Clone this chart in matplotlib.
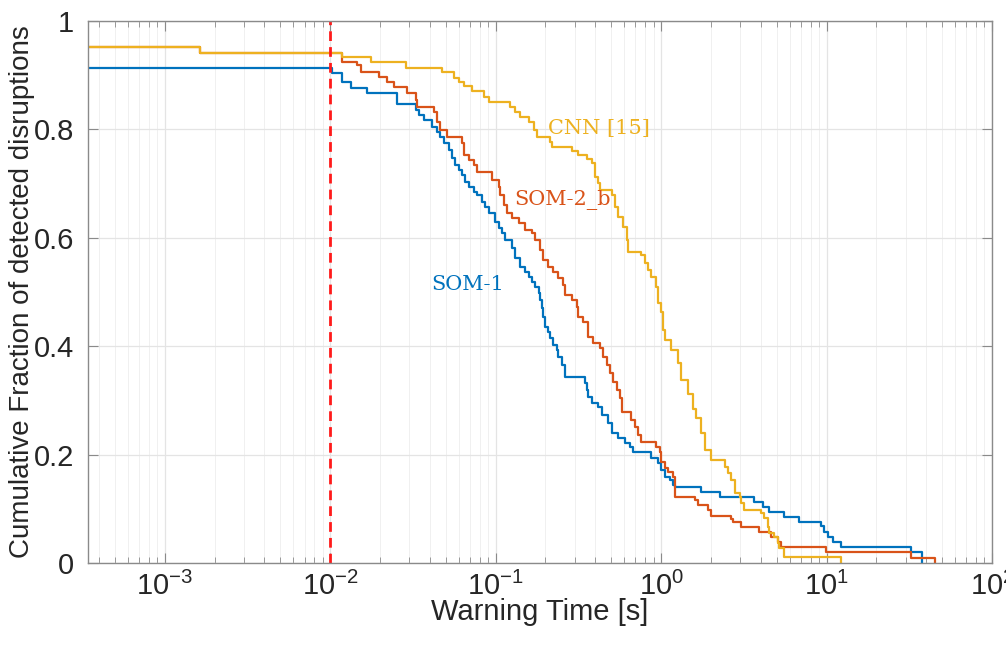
"""
Cumulative fraction of detected disruptions vs warning time.
"""
import matplotlib.pyplot as plt
import numpy as np
from matplotlib.ticker import LogLocator, NullFormatter

plt.rcParams['font.family'] = ['Liberation Sans', 'DejaVu Sans']
plt.rcParams['mathtext.default'] = 'regular'

# Data -- level after each step, warning time in s
som1_t = [1e-4, 0.0102, 0.01186, 0.01343, 0.01679, 0.0252, 0.0328, 0.0344,
          0.0368, 0.0413, 0.0443, 0.0464, 0.0486, 0.0521, 0.0546, 0.0572,
          0.0598, 0.0627, 0.0657, 0.0688, 0.0737, 0.0771, 0.0826, 0.0867,
          0.0907, 0.0996, 0.1043, 0.109, 0.1143, 0.1254, 0.1314, 0.141,
          0.151, 0.158, 0.1655, 0.1734, 0.1816, 0.1859, 0.190, 0.1945, 0.199,
          0.2086, 0.2136, 0.2236, 0.234, 0.2396, 0.2509, 0.263, 0.3467,
          0.3548, 0.3631, 0.380, 0.417, 0.4366, 0.4797, 0.502, 0.5508, 0.604,
          0.6476, 0.678, 0.8743, 0.9593, 1.004, 1.053, 1.128, 1.181, 1.209,
          1.750, 2.258, 3.667, 4.115, 4.515, 5.56, 6.85, 9.24, 9.59, 10.14,
          10.87, 12.2, 32.2, 37.9]
som1_f = [0.914, 0.9035, 0.888, 0.876, 0.8666, 0.847, 0.836, 0.8266, 0.8173,
          0.805, 0.7958, 0.7865, 0.7744, 0.762, 0.7467, 0.7343, 0.725, 0.716,
          0.7035, 0.694, 0.685, 0.679, 0.6666, 0.6574, 0.645, 0.6297, 0.6175,
          0.6083, 0.5959, 0.581, 0.5627, 0.5467, 0.5375, 0.5282, 0.519,
          0.5098, 0.4976, 0.4852, 0.4699, 0.4544, 0.436, 0.4267, 0.4146,
          0.4022, 0.393, 0.3806, 0.3653, 0.3437, 0.3316, 0.3192, 0.3068,
          0.2946, 0.2884, 0.273, 0.2577, 0.2393, 0.230, 0.2208, 0.2146,
          0.2053, 0.1932, 0.184, 0.1716, 0.1592, 0.1531, 0.1439, 0.1408,
          0.1315, 0.1223, 0.1131, 0.1039, 0.0946, 0.0854, 0.0762, 0.0683,
          0.0577, 0.0485, 0.0393, 0.0301, 0.0208, 0.0]

som2b_t = [1e-4, 0.00163, 0.01186, 0.01459, 0.01538, 0.0197, 0.0221, 0.0243,
           0.0292, 0.0328, 0.0336, 0.0423, 0.0443, 0.0464, 0.0509, 0.0627,
           0.0642, 0.0688, 0.0737, 0.0771, 0.0950, 0.1043, 0.1067, 0.1117,
           0.1170, 0.1254, 0.1377, 0.151, 0.1655, 0.1734, 0.1859, 0.1945,
           0.2086, 0.2236, 0.2396, 0.2568, 0.263, 0.2884, 0.309, 0.3162,
           0.3388, 0.3631, 0.389, 0.4274, 0.4477, 0.468, 0.491, 0.514, 0.538,
           0.564, 0.577, 0.662, 0.695, 0.727, 0.761, 0.937, 0.982, 1.004,
           1.053, 1.102, 1.181, 1.209, 1.60, 1.67, 1.92, 2.01, 2.65, 2.72,
           3.05, 3.93, 4.63, 5.07, 5.31, 9.91, 32.2, 45.5]
som2b_f = [0.952, 0.9415, 0.9238, 0.9188, 0.9065, 0.8972, 0.888, 0.8788,
           0.8666, 0.8542, 0.8419, 0.8327, 0.8142, 0.7989, 0.7865, 0.7744,
           0.7528, 0.7435, 0.7343, 0.722, 0.7066, 0.6943, 0.679, 0.6605,
           0.6452, 0.636, 0.6268, 0.6144, 0.6083, 0.5959, 0.5775, 0.559,
           0.5467, 0.5375, 0.5253, 0.5129, 0.4945, 0.4852, 0.4729, 0.4544,
           0.4452, 0.4175, 0.4054, 0.3961, 0.3806, 0.3653, 0.350, 0.3345,
           0.3192, 0.3039, 0.2792, 0.2638, 0.2515, 0.2362, 0.2238, 0.2146,
           0.2053, 0.1869, 0.1747, 0.1684, 0.1592, 0.1223, 0.1162, 0.107,
           0.0978, 0.0867, 0.0812, 0.0762, 0.067, 0.0577, 0.0485, 0.0393,
           0.0301, 0.0208, 0.0101, 0.0]

cnn_t = [1e-4, 0.00163, 0.01186, 0.01759, 0.0286, 0.0475, 0.0558, 0.0598,
         0.0642, 0.0720, 0.0847, 0.0907, 0.1227, 0.1314, 0.141, 0.158, 0.1694,
         0.1774, 0.2136, 0.2184, 0.2884, 0.3162, 0.3548, 0.380, 0.399, 0.417,
         0.4274, 0.502, 0.526, 0.5508, 0.590, 0.618, 0.633, 0.761, 0.797,
         0.835, 0.874, 0.937, 0.959, 1.004, 1.028, 1.053, 1.154, 1.266, 1.326,
         1.454, 1.559, 1.633, 1.750, 1.834, 2.01, 2.42, 2.53, 2.65, 2.78,
         2.98, 3.05, 3.19, 4.02, 4.21, 4.41, 4.52, 4.84, 5.07, 5.19, 5.56,
         12.2]
cnn_f = [0.952, 0.9415, 0.9341, 0.9244, 0.9138, 0.9065, 0.8943, 0.888, 0.881,
         0.8708, 0.8603, 0.8511, 0.8419, 0.8327, 0.8234, 0.8142, 0.7989,
         0.786, 0.7768, 0.768, 0.760, 0.7519, 0.7463, 0.7374, 0.7127, 0.7006,
         0.6882, 0.679, 0.6574, 0.6375, 0.620, 0.596, 0.5743, 0.5683, 0.553,
         0.5406, 0.5282, 0.5098, 0.4791, 0.4631, 0.4299, 0.4114, 0.393,
         0.3684, 0.3376, 0.3118, 0.2841, 0.267, 0.2399, 0.2085, 0.190, 0.1777,
         0.1655, 0.1531, 0.1286, 0.1223, 0.1101, 0.0978, 0.0923, 0.0825,
         0.067, 0.0548, 0.0485, 0.0363, 0.0271, 0.0116, 0.0]

threshold = 0.01
yticks = [0, 0.2, 0.4, 0.6, 0.8, 1]
ytick_labels = ['0', '0.2', '0.4', '0.6', '0.8', '1']

# Colours (MATLAB default order)
c_blue = '#0072BD'
c_red = '#D95319'
c_yellow = '#EDB120'

fig = plt.figure(figsize=(10.06, 6.49), dpi=100)
ax = fig.add_axes([0.0875, 0.1325, 0.8986, 0.8351])

ax.step(som1_t, som1_f, where='post', color=c_blue, lw=1.6)
ax.step(som2b_t, som2b_f, where='post', color=c_red, lw=1.6)
ax.step(cnn_t, cnn_f, where='post', color=c_yellow, lw=1.6)
ax.axvline(threshold, color='#FF1A1A', lw=2, ls=(0, (3.5, 2.2)))

ax.set_xscale('log')
ax.set_xlim(3.44e-4, 100)
ax.set_ylim(0, 1)
ax.set_yticks(yticks)
ax.set_yticklabels(ytick_labels)
ax.xaxis.set_major_locator(LogLocator(base=10, numticks=20))
ax.xaxis.set_minor_locator(LogLocator(base=10, subs=np.arange(2, 10), numticks=20))
ax.xaxis.set_minor_formatter(NullFormatter())

# grid
ax.grid(True, which='major', color='#e4e4e4', lw=0.9)
ax.grid(True, which='minor', axis='x', color='#f0f0f0', lw=0.7)
ax.set_axisbelow(True)

for s in ax.spines.values():
    s.set_color('#8a8a8a')
    s.set_linewidth(1.0)
ax.tick_params(which='both', direction='in', top=True, right=True,
               color='#8a8a8a', labelcolor='#262626', labelsize=21)
ax.tick_params(which='major', length=7)
ax.tick_params(axis='x', which='major', pad=6)
ax.tick_params(axis='y', which='major', pad=10)
ax.tick_params(which='minor', length=4)

ax.set_xlabel('Warning Time [s]', fontsize=21, color='#262626', labelpad=-2)
ax.set_ylabel('Cumulative Fraction of detected disruptions', fontsize=20,
              color='#262626')
ax.yaxis.set_label_coords(-0.059, 0.5)

# curve labels
ax.text(0.2086, 0.8026, 'CNN [15]', color=c_yellow, fontsize=15,
        family='DejaVu Serif', va='center', ha='left')
ax.text(0.130, 0.67, 'SOM-2_b', color=c_red, fontsize=15,
        family='DejaVu Serif', va='center', ha='left')
ax.text(0.0406, 0.513, 'SOM-1', color=c_blue, fontsize=15,
        family='DejaVu Serif', va='center', ha='left')

fig.savefig('out.png', dpi=100)
